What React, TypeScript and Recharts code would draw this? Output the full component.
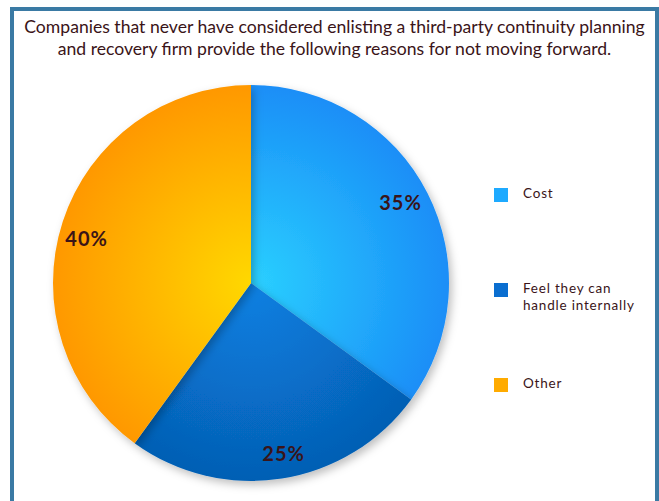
import React from "react";
import { PieChart, Pie, Cell } from "recharts";

const categories = ["Cost", "Feel they can handle internally", "Other"];
const values = [35, 25, 40];
const legendLines = [["Cost"], ["Feel they can", "handle internally"], ["Other"]];
const titleLines = [
  "Companies that never have considered enlisting a third-party continuity planning",
  "and recovery firm provide the following reasons for not moving forward.",
];

const data = categories.map((name, i) => ({ name, value: values[i] }));

const CX = 251;
const CY = 283;
const R = 198;
const gradients = [
  { id: "gCost", inner: "#2ad0ff", outer: "#1a8ef7", legend: "#1eaaff" },
  { id: "gFeel", inner: "#0a80e2", outer: "#055fb4", legend: "#0a6ed0" },
  { id: "gOther", inner: "#ffd800", outer: "#ff9800", legend: "#ffab00" },
];
const textColor = "#3a1418";
const font = "Lato, 'Open Sans', sans-serif";

const RAD = Math.PI / 180;
const renderLabel = (props: any) => {
  const { cx, cy, midAngle, percent } = props;
  const r = 171;
  const a = midAngle + 2;
  const x = cx + r * Math.cos(-a * RAD);
  const y = cy + r * Math.sin(-a * RAD) + 2;
  return (
    <text
      x={x}
      y={y}
      fill={textColor}
      textAnchor="middle"
      dominantBaseline="central"
      fontFamily={font}
      fontWeight="bold"
      fontSize={20}
      letterSpacing={1}
    >
      {`${Math.round(percent * 100)}%`}
    </text>
  );
};

export default function App() {
  return (
    <div style={{ position: "absolute", left: 0, top: 0, width: 659, height: 501, background: "#fff", overflow: "hidden" }}>
      <div
        style={{
          position: "absolute",
          left: 10,
          top: 7,
          width: 641,
          height: 520,
          border: "4px solid #3a7aa4",
          borderBottom: "none",
        }}
      />
      <div
        style={{
          position: "absolute",
          left: 14,
          top: 16,
          width: 641,
          textAlign: "center",
          fontFamily: font,
          fontSize: 17.6,
          lineHeight: "22px",
          color: textColor,
        }}
      >
        {titleLines.map((t, i) => (
          <div key={i}>{t}</div>
        ))}
      </div>
      <div style={{ position: "absolute", left: 0, top: 0 }}>
        <PieChart width={659} height={501} margin={{ top: 0, right: 0, bottom: 0, left: 0 }}>
          <defs>
            {gradients.map((g) => (
              <radialGradient key={g.id} id={g.id} gradientUnits="userSpaceOnUse" cx={CX} cy={CY} r={R}>
                <stop offset="0%" stopColor={g.inner} />
                <stop offset="100%" stopColor={g.outer} />
              </radialGradient>
            ))}
            <filter id="shadow" x="-20%" y="-20%" width="140%" height="140%">
              <feDropShadow dx="3" dy="4" stdDeviation="4" floodColor="#000" floodOpacity="0.25" />
            </filter>
          </defs>
          <Pie
            data={data}
            dataKey="value"
            nameKey="name"
            cx={CX}
            cy={CY}
            outerRadius={R}
            startAngle={90}
            endAngle={-270}
            stroke="none"
            label={renderLabel}
            labelLine={false}
            isAnimationActive={false}
            style={{ filter: "url(#shadow)" }}
          >
            {data.map((d, i) => (
              <Cell key={d.name} fill={`url(#${gradients[i].id})`} />
            ))}
          </Pie>
        </PieChart>
      </div>
      {legendLines.map((lines, i) => {
        const top = [188, 283, 378][i];
        return (
          <div key={i} style={{ position: "absolute", left: 494, top }}>
            <div style={{ position: "absolute", left: 0, top: 0, width: 14, height: 14, background: gradients[i].legend }} />
            <div
              style={{
                position: "absolute",
                left: 29,
                top: -3,
                whiteSpace: "nowrap",
                fontFamily: font,
                fontSize: 13.5,
                lineHeight: "17px",
                color: textColor,
                letterSpacing: 0.8,
              }}
            >
              {lines.map((l, j) => (
                <div key={j}>{l}</div>
              ))}
            </div>
          </div>
        );
      })}
    </div>
  );
}
